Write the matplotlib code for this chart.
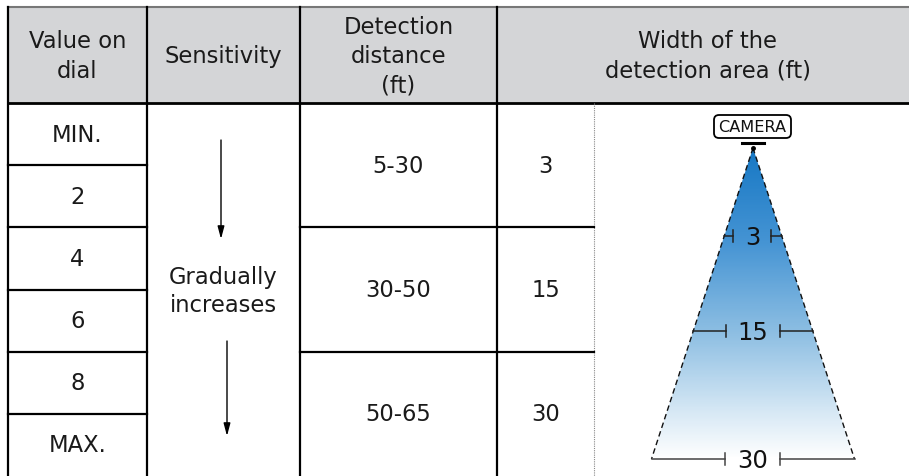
import matplotlib
matplotlib.use("Agg")
import matplotlib.pyplot as plt
import numpy as np
from matplotlib.colors import LinearSegmentedColormap
from matplotlib.patches import Polygon, Rectangle, FancyBboxPatch

# ---------------- data ----------------
headers = ["Value on\ndial", "Sensitivity", "Detection\ndistance\n(ft)", "Width of the\ndetection area (ft)"]
dial_values = ["MIN.", "2", "4", "6", "8", "MAX."]
sensitivity_text = "Gradually\nincreases"
distances = ["5-30", "30-50", "50-65"]
widths = ["3", "15", "30"]
camera_label = "CAMERA"

# ---------------- layout (pixels) ----------------
W, H = 909, 477
col_x = [8, 147, 300, 497, 594]
top, head_bot, bottom = 7.5, 104, 477
row_h = (bottom - head_bot) / len(dial_values)
FS = 16.3
LW = 1.6
TXT = "#1a1a1a"

fig = plt.figure(figsize=(W / 100, H / 100), dpi=100)
ax = fig.add_axes([0, 0, 1, 1])
ax.set_xlim(0, W)
ax.set_ylim(H, 0)
ax.axis("off")

# header
ax.add_patch(Rectangle((col_x[0], top), W - col_x[0], head_bot - top,
                       facecolor="#d4d5d7", edgecolor="none", zorder=0))
ax.plot([col_x[0], W], [top, top], color="#777777", lw=1.5, zorder=2)
ax.plot([col_x[0], W], [head_bot, head_bot], color="black", lw=LW + 0.4, zorder=3)

# vertical lines
for x in col_x[:4]:
    ax.plot([x, x], [top, bottom], color="black", lw=LW, zorder=3)
ax.plot([col_x[4], col_x[4]], [head_bot, bottom], color="#888888", lw=0.8,
        linestyle=(0, (1, 1)), zorder=3)

# header texts
head_cx = [(col_x[0] + col_x[1]) / 2, (col_x[1] + col_x[2]) / 2,
           (col_x[2] + col_x[3]) / 2, 708]
head_cy = (top + head_bot) / 2 + 1
line_gap = 29.5
for cx, txt in zip(head_cx, headers):
    lines = txt.split("\n")
    n = len(lines)
    for i, ln in enumerate(lines):
        y = head_cy + (i - (n - 1) / 2) * line_gap
        ax.text(cx, y, ln, ha="center", va="center", fontsize=FS, color=TXT)

# column 1 rows
for i, v in enumerate(dial_values):
    y0 = head_bot + i * row_h
    if i > 0:
        ax.plot([col_x[0], col_x[1]], [y0, y0], color="black", lw=LW, zorder=3)
    ax.text(head_cx[0], y0 + row_h / 2, v, ha="center", va="center", fontsize=FS, color=TXT)

# columns 3 and 4 (groups of two rows)
for g, (d, w) in enumerate(zip(distances, widths)):
    y0 = head_bot + g * 2 * row_h
    if g > 0:
        ax.plot([col_x[2], col_x[4]], [y0, y0], color="black", lw=LW, zorder=3)
    cy = y0 + row_h
    ax.text(head_cx[2], cy, d, ha="center", va="center", fontsize=FS, color=TXT)
    ax.text((col_x[3] + col_x[4]) / 2, cy, w, ha="center", va="center", fontsize=FS, color=TXT)

# sensitivity column
sx = head_cx[1]
s_lines = sensitivity_text.split("\n")
ax.text(sx, 278, s_lines[0], ha="center", va="center", fontsize=FS, color=TXT)
ax.text(sx, 306, s_lines[1], ha="center", va="center", fontsize=FS, color=TXT)
for (x, y1, y2) in [(221, 141, 240), (227, 342, 437)]:
    ax.annotate("", xy=(x, y2), xytext=(x, y1),
                arrowprops=dict(arrowstyle="-|>,head_length=0.75,head_width=0.2",
                                color="black", lw=1.0, shrinkA=0, shrinkB=0))

# ---------------- detection cone ----------------
apex = (753, 149)
base_y = 460
half_base = 101.5
left_b = (apex[0] - half_base, base_y)
right_b = (apex[0] + half_base, base_y)

cmap = LinearSegmentedColormap.from_list(
    "cone", [(0.0, (0.09, 0.47, 0.77)), (0.3, (0.27, 0.58, 0.83)),
             (0.6, (0.56, 0.75, 0.89)), (0.85, (0.84, 0.91, 0.96)), (1.0, (1, 1, 1))])
grad = np.linspace(0, 1, 300).reshape(-1, 1)
im = ax.imshow(grad, cmap=cmap, aspect="auto",
               extent=(left_b[0], right_b[0], base_y, apex[1]), origin="upper", zorder=1)
tri = Polygon([apex, left_b, right_b], closed=True, facecolor="none", edgecolor="none")
ax.add_patch(tri)
im.set_clip_path(tri)
for end in (left_b, right_b):
    ax.plot([apex[0], end[0]], [apex[1], end[1]], color="#111111", lw=1.0,
            linestyle=(0, (4, 2.5)), zorder=4)
ax.plot([apex[0]], [apex[1]], marker="o", color="black", markersize=2.5, zorder=5)

# camera
ax.add_patch(FancyBboxPatch((714, 116), 77, 23, boxstyle="round,pad=0,rounding_size=5",
                            facecolor="white", edgecolor="black", lw=1.3, zorder=5))
ax.text(752.5, 128, camera_label, ha="center", va="center", fontsize=11.6, color="#111111", zorder=6)
ax.plot([742, 764], [143.5, 143.5], color="black", lw=2.2, zorder=5)

# width markers
marker_y = [237, 332, 460]
gaps = [(733, 771), (726, 780), (725, 780)]
for w, y, (gl, gr) in zip(widths, marker_y, gaps):
    hw = (y - apex[1]) / (base_y - apex[1]) * half_base
    lcol = "#222222" if y < base_y else "#444444"
    ax.plot([apex[0] - hw, gl], [y, y], color=lcol, lw=1.1, zorder=4)
    ax.plot([gr, apex[0] + hw], [y, y], color=lcol, lw=1.1, zorder=4)
    ax.plot([gl, gl], [y - 6, y + 6], color=lcol, lw=1.1, zorder=4)
    ax.plot([gr, gr], [y - 6, y + 6], color=lcol, lw=1.1, zorder=4)
    ax.text(apex[0], y + 1, w, ha="center", va="center", fontsize=17.5, color="#111111", zorder=5)

fig.savefig("out.png", dpi=100)
